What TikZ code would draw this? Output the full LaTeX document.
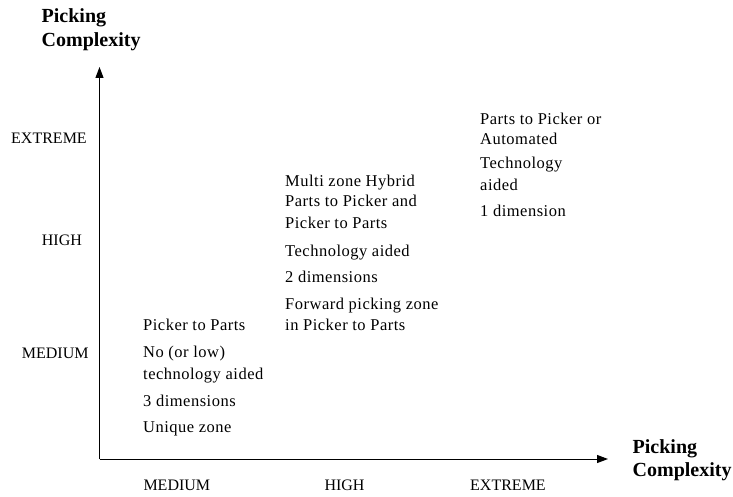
\documentclass[tikz,border=0pt]{standalone}
\usepackage{fontspec}
\setmainfont{Liberation Serif}
\newfontfamily\blockfont[LetterSpace=3]{Liberation Serif}
\usetikzlibrary{arrows.meta}
\begin{document}
\begin{tikzpicture}[x=1pt,y=-1pt,
  lab/.style={anchor=base west,inner sep=0pt,font=\fontsize{16}{19}\selectfont},
  txt/.style={anchor=base west,inner sep=0pt,font=\blockfont\fontsize{16.5}{20}\selectfont},
  ttl/.style={anchor=base west,inner sep=0pt,font=\fontsize{20}{24}\selectfont\bfseries},
  axis/.style={line width=1pt,-{Triangle[length=11pt,width=8pt]}}]
\useasboundingbox (0,0) rectangle (733,497);
% axes
\coordinate (o) at (99.5,459);
\coordinate (ytop) at (99.5,67);
\coordinate (xend) at (608,459);
\draw[axis] (o) -- (ytop);
\draw[axis] (o) -- (xend);
% axis titles
\node[ttl] (yt1) at (41.5,22.3) {Picking};
\node[ttl] (yt2) at (41.5,46.7) {Complexity};
\node[ttl] (xt1) at (632.5,453) {Picking};
\node[ttl] (xt2) at (632.5,476.7) {Complexity};
% y labels
\node[lab] (ye) at (11,143.3) {EXTREME};
\node[lab] (yh) at (41.7,245) {HIGH};
\node[lab] (ym) at (21.7,358.3) {MEDIUM};
% x labels
\node[lab] (xm) at (143.3,490.7) {MEDIUM};
\node[lab] (xh) at (324.3,490.7) {HIGH};
\node[lab] (xe) at (470,490.7) {EXTREME};
% block medium
\node[txt] (a1) at (143,330) {Picker to Parts};
\node[txt] (a2) at (143,357.7) {No (or low)};
\node[txt] (a3) at (143,379) {technology aided};
\node[txt] (a4) at (143,406) {3 dimensions};
\node[txt] (a5) at (143,432.3) {Unique zone};
% block high
\node[txt] (b1) at (285,186.7) {Multi zone Hybrid};
\node[txt] (b2) at (285,207) {Parts to Picker and};
\node[txt] (b3) at (285,228) {Picker to Parts};
\node[txt] (b4) at (285,256.7) {Technology aided};
\node[txt] (b5) at (285,282.7) {2 dimensions};
\node[txt] (b6) at (285,309) {Forward picking zone};
\node[txt] (b7) at (285,330) {in Picker to Parts};
% block extreme
\node[txt] (c1) at (480,125) {Parts to Picker or};
\node[txt] (c2) at (480,145) {Automated};
\node[txt] (c3) at (480,169) {Technology};
\node[txt] (c4) at (480,190.7) {aided};
\node[txt] (c5) at (480,216.7) {1 dimension};
\end{tikzpicture}
\end{document}
